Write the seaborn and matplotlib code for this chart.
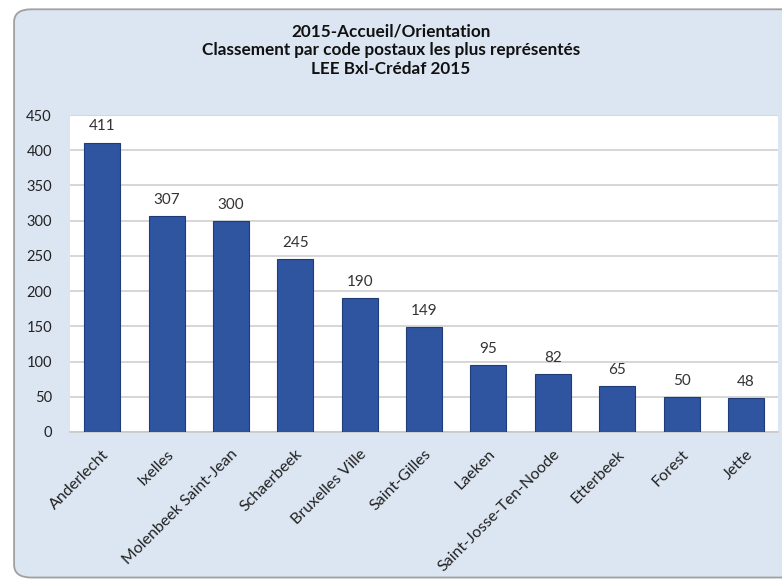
import matplotlib
matplotlib.use('Agg')
import matplotlib.pyplot as plt
from matplotlib.patches import FancyBboxPatch
import seaborn as sns
import pandas as pd

communes = ['Anderlecht', 'Ixelles', 'Molenbeek Saint-Jean', 'Schaerbeek',
            'Bruxelles Ville', 'Saint-Gilles', 'Laeken', 'Saint-Josse-Ten-Noode',
            'Etterbeek', 'Forest', 'Jette']
counts = [411, 307, 300, 245, 190, 149, 95, 82, 65, 50, 48]
y_ticks = [0, 50, 100, 150, 200, 250, 300, 350, 400, 450]

TITLE = ('2015-Accueil/Orientation\n'
         'Classement par code postaux les plus représentés\n'
         'LEE Bxl-Crédaf 2015')

BAR_COLOR = '#2f54a0'
PANEL_COLOR = '#dce6f2'

sns.set_style('white')
plt.rcParams['font.family'] = ['Lato', 'DejaVu Sans']

df = pd.DataFrame({'commune': communes, 'n': counts})

fig = plt.figure(figsize=(7.82, 5.81), dpi=100)
fig.patch.set_facecolor('white')

# rounded light-blue chart panel, behind everything (open on the right)
panel = FancyBboxPatch((0.018, 0.006), 1.05, 0.978,
                       boxstyle='round,pad=0,rounding_size=0.022',
                       transform=fig.transFigure, facecolor=PANEL_COLOR,
                       edgecolor='#a0a0a0', linewidth=1.3, zorder=-5)
fig.patches.append(panel)

ax = fig.add_axes([0.0895, 0.2565, 0.9055, 0.5455])
ax.set_zorder(2)
ax.set_facecolor('white')

sns.barplot(data=df, x='commune', y='n', color=BAR_COLOR, width=0.56,
            edgecolor='#1f3c78', linewidth=0.8, saturation=1, ax=ax, zorder=3)

for i, v in enumerate(counts):
    ax.text(i, v + 13, str(v), ha='center', va='bottom', fontsize=11,
            color='#333333')

ax.set_ylim(0, 450)
ax.set_xlim(-0.5, len(communes) - 0.5)
ax.set_yticks(y_ticks)
ax.yaxis.grid(True, color='#d0d0d0', linewidth=1.2, zorder=0)
ax.set_axisbelow(True)
for s in ['top', 'right', 'left']:
    ax.spines[s].set_visible(False)
ax.spines['bottom'].set_color('#c8c8c8')
ax.spines['bottom'].set_linewidth(1.2)
ax.tick_params(axis='y', length=0, labelsize=10.5, colors='#222222', pad=13)
ax.tick_params(axis='x', length=0, labelsize=11.5, colors='#222222', pad=11)
ax.set_xticks(range(len(communes)))
ax.set_xticklabels(communes, rotation=45, ha='right', rotation_mode='anchor')
ax.set_xlabel('')
ax.set_ylabel('')

fig.text(0.5, 0.914, TITLE, ha='center', va='center', fontsize=12.3,
         fontweight='bold', color='#111111', linespacing=1.2)

fig.savefig('out.png', dpi=100)
